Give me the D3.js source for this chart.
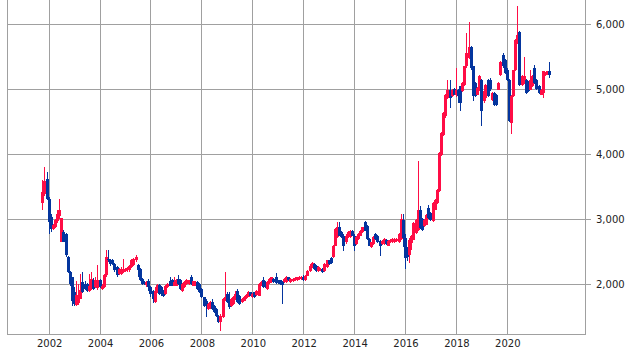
<!DOCTYPE html>
<html>
<head>
<meta charset="utf-8">
<script src="https://cdn.jsdelivr.net/npm/d3@7"></script>
<style>
  body { margin: 0; background: #fff; }
  svg { display: block; }
  text { font-family: "DejaVu Sans", Verdana, sans-serif; font-size: 10px; fill: #222; }
</style>
</head>
<body>
<div id="chart"></div>
<script>
// monthly candles, first one is Oct 2001
const firstMonth = [2001, 9];

const opens = [
  3246, 3391, 3620,
  3300, 3030, 2850, 2880, 2960, 3040, 2650, 2800, 2773, 2412, 2180, 2100,
  1870, 1680, 1700, 1770, 2026, 2000, 2000, 1897, 1923, 2052, 1949, 1930,
  2052, 1923, 1949, 2129, 2390, 2360, 2361, 2309, 2258, 2155, 2150, 2180,
  2196, 2206, 2206, 2258, 2283, 2361, 2283, 2232, 2077, 2026, 1990, 2040,
  1949, 1897, 1717, 1871, 1985, 1949, 1897, 1846, 1949, 2040, 2052, 1974,
  1974, 2077, 2060, 1897, 1949, 2000, 2000, 2103, 1974, 1974, 2026, 2000,
  1923, 1794, 1743, 1614, 1640, 1717, 1665, 1614, 1510, 1407, 1485, 1743,
  1846, 1768, 1665, 1691, 1768, 1897, 1820, 1717, 1743, 1784, 1804, 1871,
  1794, 1871, 1835, 1820, 1974, 2052, 2026, 1923, 2020, 2026, 2077, 2103,
  2052, 2052, 2040, 2026, 2026, 2103, 2026, 2041, 2052, 2062, 2072, 2077,
  2113, 2062, 2128, 2205, 2256, 2308, 2282, 2205, 2210, 2230, 2195, 2256,
  2360, 2400, 2410, 2590, 2718, 2872, 2795, 2744, 2641, 2718, 2718, 2820,
  2744, 2615, 2692, 2744, 2795, 2949, 2897, 2692, 2564, 2615, 2770, 2744,
  2667, 2615, 2615, 2677, 2590, 2641, 2641, 2641, 2667, 2641, 2692, 2990,
  2700, 2540, 2450, 2630, 2682, 2785, 2836, 3144, 3000, 2887, 2913, 3170,
  3092, 2964, 3144, 3246, 3426, 3990, 4297, 4580, 4862, 4990, 4887, 5000,
  4900, 4990, 5041, 4964, 5066, 5347, 5474, 5653, 5347, 5092, 4913, 4990,
  5143, 4811, 4862, 5143, 5143, 4837, 4939, 4913, 4990, 5219, 5526, 5449,
  5300, 5143, 4479, 4888, 5296, 5704, 5883, 5066, 5092, 5143, 5117, 4990,
  5041, 5321, 5143, 5040, 4913, 4939, 5219, 5230, 5270
];
const highs = [
  3597, 3800, 3725,
  3330, 3080, 2920, 3000, 3130, 3310, 3020, 2830, 2780, 2430, 2200, 2110,
  1950, 2040, 2000, 2155, 2180, 2050, 2010, 2155, 2180, 2090, 2100, 2283,
  2080, 2000, 2150, 2515, 2515, 2380, 2380, 2320, 2270, 2250, 2260, 2386,
  2250, 2260, 2290, 2386, 2400, 2438, 2300, 2250, 2090, 2040, 2040, 2077,
  1960, 1910, 1949, 2000, 2000, 1960, 1910, 1990, 2020, 2103, 2070, 2103,
  2070, 2129, 2070, 2010, 2040, 2077, 2060, 2129, 2050, 2040, 2040, 2010,
  1940, 1800, 1760, 1710, 1730, 1760, 1680, 1630, 1520, 1530, 1780, 2180,
  1870, 1870, 1780, 1810, 1897, 1923, 1830, 1780, 1820, 1850, 1897, 1880,
  1860, 1880, 1910, 2010, 2040, 2103, 2040, 2040, 2090, 2110, 2090, 2164,
  2060, 2060, 2050, 2090, 2128, 2110, 2090, 2090, 2100, 2110, 2120, 2120,
  2130, 2140, 2220, 2300, 2333, 2320, 2290, 2270, 2240, 2240, 2320, 2370,
  2370, 2410, 2600, 2860, 2949, 2949, 2810, 2760, 2760, 2810, 2830, 2830,
  2760, 2730, 2780, 2830, 2880, 2974, 2910, 2700, 2650, 2730, 2780, 2750,
  2680, 2680, 2700, 2690, 2680, 2690, 2700, 2710, 2700, 2780, 3077, 3077,
  2760, 2560, 2700, 2750, 2950, 3000, 3887, 3195, 3010, 3000, 3080, 3220,
  3100, 3260, 3310, 3460, 4030, 4340, 4650, 4930, 5144, 5144, 5000, 5010,
  5320, 5000, 5050, 5100, 5360, 5857, 6036, 5660, 5360, 5100, 5030, 5210,
  5150, 4970, 5080, 5150, 5168, 4950, 4950, 4920, 5100, 5430, 5551, 5460,
  5330, 5150, 4900, 5300, 5770, 6276, 5900, 5210, 5500, 5150, 5130, 5296,
  5210, 5372, 5150, 5060, 5000, 5280, 5260, 5280, 5423
];
const lows = [
  3133, 3350, 3290,
  2770, 2800, 2830, 2860, 2940, 3000, 2640, 2640, 2420, 2170, 1960, 1665,
  1665, 1660, 1680, 1760, 1860, 1900, 1870, 1880, 1910, 1900, 1930, 1910,
  1930, 1910, 1940, 2110, 2330, 2270, 2290, 2190, 2110, 2130, 2140, 2170,
  2180, 2190, 2190, 2240, 2270, 2340, 2100, 2040, 1990, 1980, 1949, 1897,
  1795, 1700, 1700, 1860, 1830, 1820, 1800, 1830, 1930, 1960, 1960, 1960,
  1960, 1990, 1900, 1880, 1930, 1990, 1990, 1990, 1960, 1960, 1910, 1860,
  1780, 1650, 1485, 1600, 1620, 1600, 1550, 1490, 1390, 1279, 1470, 1730,
  1700, 1620, 1650, 1680, 1750, 1700, 1680, 1700, 1730, 1770, 1790, 1810,
  1780, 1780, 1820, 1810, 1960, 1930, 1930, 1910, 2000, 2010, 2010, 2000,
  2000, 1990, 1690, 2010, 2010, 2040, 2010, 2030, 2040, 2050, 2060, 2060,
  2050, 2050, 2120, 2190, 2240, 2220, 2190, 2190, 2200, 2170, 2180, 2240,
  2290, 2300, 2400, 2580, 2700, 2730, 2700, 2513, 2620, 2700, 2700, 2730,
  2513, 2600, 2680, 2730, 2780, 2810, 2680, 2580, 2550, 2600, 2680, 2630,
  2436, 2600, 2600, 2600, 2580, 2630, 2630, 2630, 2650, 2630, 2680, 2560,
  2221, 2350, 2323, 2528, 2670, 2770, 2820, 2850, 2820, 2870, 2900, 3000,
  2970, 2950, 3130, 3230, 3410, 3970, 4280, 4560, 4850, 4700, 4870, 4900,
  4880, 4786, 4658, 4950, 5050, 5330, 5460, 5300, 4811, 4870, 4900, 4970,
  4428, 4780, 4850, 4870, 4970, 4820, 4740, 4740, 4980, 5200, 5330, 5230,
  5130, 4490, 4301, 4870, 5280, 5690, 5050, 5050, 5080, 4920, 4950, 4980,
  5030, 5080, 4980, 4930, 4900, 4862, 5200, 5210, 5168
];
const closes = [
  3416, 3580, 3313,
  2950, 2850, 2900, 2980, 3080, 3130, 3010, 2650, 2438, 2180, 2000, 1743,
  1691, 1830, 1820, 1900, 1871, 1923, 1897, 1974, 2077, 1923, 2060, 2052,
  1949, 1974, 2129, 2412, 2360, 2300, 2309, 2206, 2129, 2232, 2230, 2232,
  2232, 2245, 2270, 2361, 2386, 2412, 2206, 2052, 2000, 2000, 2026, 1950,
  1846, 1768, 1897, 1985, 1846, 1846, 1820, 1974, 2000, 1974, 1974, 2026,
  2052, 2000, 1923, 2000, 2026, 2052, 2052, 2000, 2040, 2026, 1923, 1871,
  1794, 1665, 1665, 1691, 1717, 1614, 1562, 1510, 1407, 1510, 1768, 1794,
  1717, 1640, 1768, 1794, 1846, 1717, 1691, 1768, 1805, 1835, 1871, 1820,
  1846, 1794, 1897, 2000, 2026, 1949, 1949, 2026, 2070, 2100, 2026, 2010,
  2010, 2000, 1990, 2077, 2103, 2052, 2077, 2077, 2092, 2103, 2113, 2103,
  2062, 2128, 2205, 2282, 2318, 2230, 2205, 2256, 2230, 2180, 2308, 2360,
  2308, 2318, 2590, 2846, 2872, 2744, 2718, 2590, 2744, 2795, 2820, 2744,
  2590, 2718, 2770, 2820, 2872, 2820, 2692, 2590, 2641, 2718, 2692, 2641,
  2590, 2667, 2692, 2615, 2667, 2677, 2692, 2692, 2692, 2770, 3000, 2700,
  2400, 2420, 2682, 2733, 2938, 2990, 3144, 2862, 2836, 2990, 3067, 3015,
  2990, 3246, 3297, 3451, 4015, 4323, 4631, 4913, 4990, 4862, 4990, 4913,
  4990, 4888, 4786, 5092, 5347, 5551, 5653, 5321, 4888, 4888, 5015, 5194,
  4658, 4964, 5066, 4888, 5000, 4939, 4760, 4760, 5092, 5423, 5347, 5245,
  5143, 4505, 4888, 5296, 5755, 5832, 5066, 5194, 5194, 4939, 4964, 5143,
  5194, 5092, 5000, 4939, 4990, 5270, 5245, 5270, 5219
];

const xTickYears = [2002, 2004, 2006, 2008, 2010, 2012, 2014, 2016, 2018, 2020];
const yTicks = [2000, 3000, 4000, 5000, 6000];

const width = 626, height = 350;
const left = 7, right = 585, bottom = 334;
const upColor = "#ff0d45", downColor = "#04359e", gridColor = "#a0a0a0";

let candles = closes.map((c, i) => ({
  date: new Date(firstMonth[0], firstMonth[1] + i, 1),
  open: opens[i], high: highs[i], low: lows[i], close: c
}));

let x = d3.scaleTime()
  .domain([new Date(2000, 4, 13), new Date(2023, 0, 27)])
  .range([left, right]);

let y = d3.scaleLinear()
  .domain([1228, 6370])
  .range([bottom, 0]);

let svg = d3.select("#chart")
  .append("svg")
    .attr("width", width)
    .attr("height", height);

// grid
let grid = svg.append("g")
  .attr("shape-rendering", "crispEdges")
  .attr("stroke", gridColor)
  .attr("stroke-width", 1);

grid.selectAll(".vgrid")
  .data(xTickYears)
  .enter()
  .append("line")
    .attr("x1", d => Math.round(x(new Date(d, 0, 1))) + 0.5)
    .attr("x2", d => Math.round(x(new Date(d, 0, 1))) + 0.5)
    .attr("y1", 0)
    .attr("y2", bottom);

grid.selectAll(".hgrid")
  .data(yTicks)
  .enter()
  .append("line")
    .attr("x1", left)
    .attr("x2", right + 6)
    .attr("y1", d => Math.round(y(d)) + 0.5)
    .attr("y2", d => Math.round(y(d)) + 0.5);

// frame
grid.append("path")
  .attr("fill", "none")
  .attr("d", `M${left + 0.5},0V${bottom + 0.5}H${right + 0.5}V0`);

// candles
let cg = svg.append("g").attr("shape-rendering", "crispEdges");
let col = d => d.close >= d.open ? upColor : downColor;

cg.selectAll(".wick")
  .data(candles)
  .enter()
  .append("rect")
    .attr("x", d => Math.round(x(d.date)))
    .attr("width", 1)
    .attr("y", d => y(d.high))
    .attr("height", d => Math.max(1, y(d.low) - y(d.high)))
    .attr("fill", col);

cg.selectAll(".body")
  .data(candles)
  .enter()
  .append("rect")
    .attr("x", d => Math.round(x(d.date)) - 1)
    .attr("width", 3)
    .attr("y", d => y(Math.max(d.open, d.close)))
    .attr("height", d => Math.max(1, Math.abs(y(d.open) - y(d.close))))
    .attr("fill", col);

// labels
svg.selectAll(".xlab")
  .data(xTickYears)
  .enter()
  .append("text")
    .attr("x", d => x(new Date(d, 0, 1)) + 1)
    .attr("y", 347)
    .attr("text-anchor", "middle")
    .text(d => d);

svg.selectAll(".ylab")
  .data(yTicks)
  .enter()
  .append("text")
    .attr("x", 596)
    .attr("y", d => y(d) + 4)
    .text(d => d3.format(",")(d));
</script>
</body>
</html>
